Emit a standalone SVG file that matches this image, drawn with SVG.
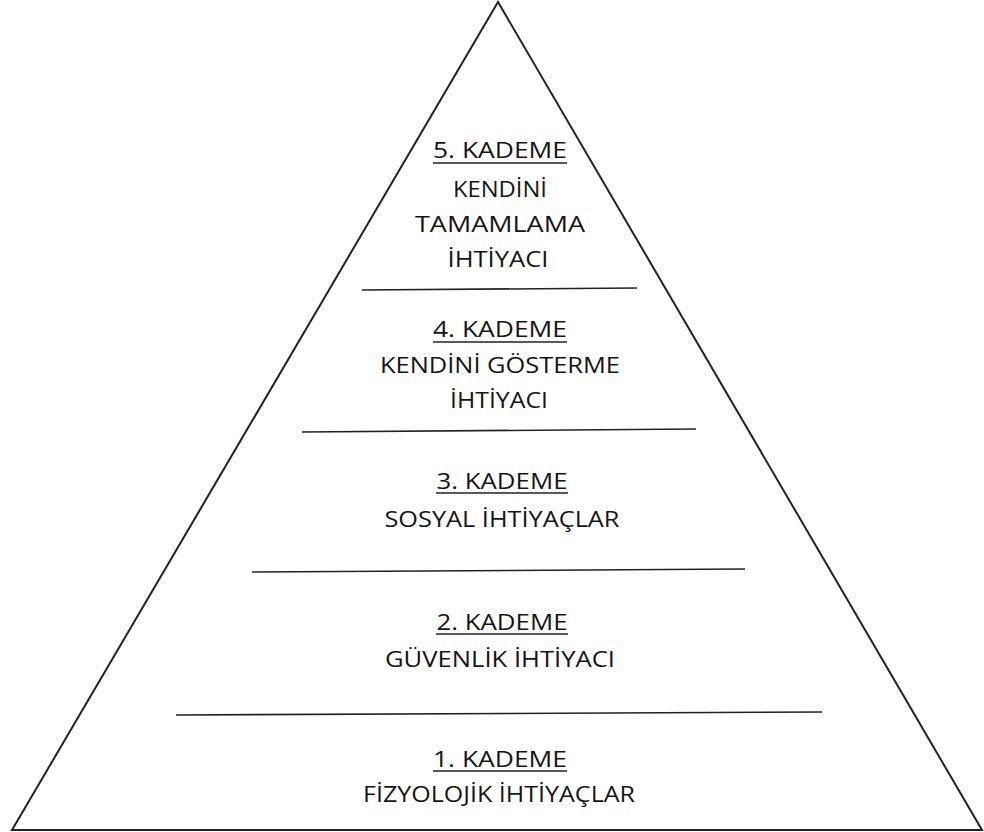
<svg xmlns="http://www.w3.org/2000/svg" width="984" height="832" viewBox="0 0 984 832">
  <style>
    .edge { fill: none; stroke: #222222; stroke-width: 2; stroke-linejoin: miter; }
    .divider { stroke: #222222; stroke-width: 1.6; }
    .uline { stroke: #222222; stroke-width: 1.6; }
    .lbl { font-family: "Open Sans", "Noto Sans", "DejaVu Sans", sans-serif; font-size: 22px; fill: #141414; text-anchor: middle; }
  </style>
  <rect width="984" height="832" fill="#ffffff"/>

  <!-- outer pyramid -->
  <g id="pyramid">
    <polygon class="edge" points="498,2 12,830 982,830"/>
  </g>

  <!-- tier dividers -->
  <g id="connectors">
    <line class="divider" x1="362" y1="290" x2="637" y2="288"/>
    <line class="divider" x1="302" y1="432" x2="696" y2="429"/>
    <line class="divider" x1="252" y1="572" x2="745" y2="569"/>
    <line class="divider" x1="176" y1="715" x2="822" y2="712"/>
  </g>

  <g id="tier5">
    <text class="lbl" x="500" y="158" textLength="134" lengthAdjust="spacingAndGlyphs">5. KADEME</text>
    <line class="uline" x1="433" y1="163" x2="567" y2="163"/>
    <text class="lbl" x="500" y="197" textLength="94" lengthAdjust="spacingAndGlyphs">KENDİNİ</text>
    <text class="lbl" x="500" y="232" textLength="170" lengthAdjust="spacingAndGlyphs">TAMAMLAMA</text>
    <text class="lbl" x="498" y="267" textLength="101" lengthAdjust="spacingAndGlyphs">İHTİYACI</text>
  </g>

  <g id="tier4">
    <text class="lbl" x="500" y="337" textLength="134" lengthAdjust="spacingAndGlyphs">4. KADEME</text>
    <line class="uline" x1="433" y1="342" x2="567" y2="342"/>
    <text class="lbl" x="500" y="373" textLength="240" lengthAdjust="spacingAndGlyphs">KENDİNİ GÖSTERME</text>
    <text class="lbl" x="499" y="408" textLength="98" lengthAdjust="spacingAndGlyphs">İHTİYACI</text>
  </g>

  <g id="tier3">
    <text class="lbl" x="502" y="489" textLength="131" lengthAdjust="spacingAndGlyphs">3. KADEME</text>
    <line class="uline" x1="436" y1="493" x2="568" y2="493"/>
    <text class="lbl" x="502" y="527" textLength="235" lengthAdjust="spacingAndGlyphs">SOSYAL İHTİYAÇLAR</text>
  </g>

  <g id="tier2">
    <text class="lbl" x="502" y="630" textLength="131" lengthAdjust="spacingAndGlyphs">2. KADEME</text>
    <line class="uline" x1="436" y1="634" x2="568" y2="634"/>
    <text class="lbl" x="500" y="667" textLength="230" lengthAdjust="spacingAndGlyphs">GÜVENLİK İHTİYACI</text>
  </g>

  <g id="tier1">
    <text class="lbl" x="500" y="767" textLength="134" lengthAdjust="spacingAndGlyphs">1. KADEME</text>
    <line class="uline" x1="433" y1="771" x2="567" y2="771"/>
    <text class="lbl" x="499" y="802" textLength="272" lengthAdjust="spacingAndGlyphs">FİZYOLOJİK İHTİYAÇLAR</text>
  </g>
</svg>
